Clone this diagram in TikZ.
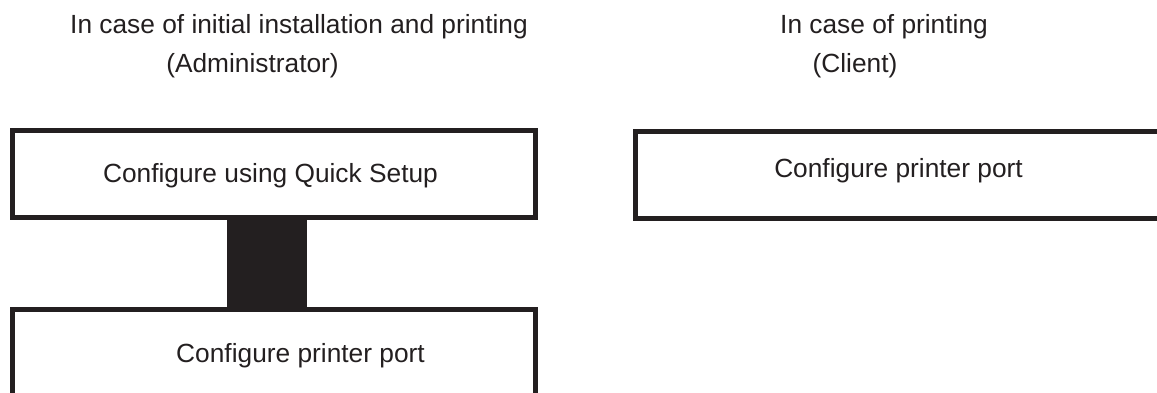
\documentclass[tikz,border=0pt]{standalone}
\usepackage{fontspec}
\setmainfont{Liberation Sans}
\definecolor{ink}{HTML}{231F20}
\begin{document}
\begin{tikzpicture}[x=1pt,y=-1pt,
  frame/.style={draw=ink,line width=5pt,fill=none},
  lbl/.style={anchor=base,inner sep=0pt,text=ink,font=\fontsize{26.3}{29}\selectfont},
  bar/.style={fill=ink,draw=none}]
\useasboundingbox (0,0) rectangle (1157,392);
\clip (0,0) rectangle (1157,392);
% titles
\node[lbl] (t1) at (299,33) {In case of initial installation and printing};
\node[lbl] (t2) at (252.5,72) {(Administrator)};
\node[lbl] (t3) at (884,33) {In case of printing};
\node[lbl] (t4) at (855,72) {(Client)};
% boxes
\coordinate (b1nw) at (12,130);
\coordinate (b1se) at (535.5,217);
\coordinate (b2nw) at (12,309.5);
\coordinate (b2se) at (535.5,420);
\coordinate (b3nw) at (635.5,131.5);
\coordinate (b3se) at (1180,218.5);
\draw[frame] (b1nw) rectangle (b1se);
\draw[frame] (b2nw) rectangle (b2se);
\draw[frame] (b3nw) rectangle (b3se);
% connector
\coordinate (cA) at (227,217);
\coordinate (cB) at (307,309.5);
\fill[bar] (cA) rectangle (cB);
% box texts
\node[lbl] (x1) at (270.5,182) {Configure using Quick Setup};
\node[lbl] (x2) at (300.5,362) {Configure printer port};
\node[lbl] (x3) at (898.5,177) {Configure printer port};
\end{tikzpicture}
\end{document}
